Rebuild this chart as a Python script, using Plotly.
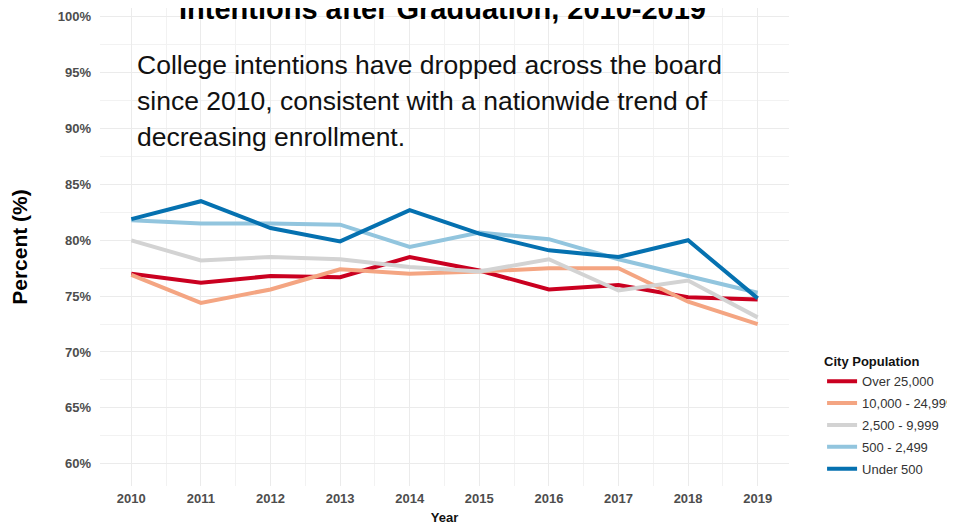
import plotly.graph_objects as go

years = [2010, 2011, 2012, 2013, 2014, 2015, 2016, 2017, 2018, 2019]

series_names = ["Over 25,000", "10,000 - 24,999", "2,500 - 9,999", "500 - 2,499", "Under 500"]
over_25000 = [77.0, 76.2, 76.8, 76.7, 78.5, 77.3, 75.6, 76.0, 74.9, 74.7]
from_10000 = [76.9, 74.4, 75.6, 77.4, 77.0, 77.2, 77.5, 77.5, 74.5, 72.5]
from_2500 = [80.0, 78.2, 78.5, 78.3, 77.6, 77.2, 78.3, 75.5, 76.4, 73.1]
from_500 = [81.8, 81.5, 81.5, 81.4, 79.4, 80.7, 80.1, 78.3, 76.8, 75.3]
under_500 = [81.9, 83.5, 81.1, 79.9, 82.7, 80.6, 79.1, 78.5, 80.0, 74.8]
series_values = [over_25000, from_10000, from_2500, from_500, under_500]
series_colors = ["#ca0020", "#f4a582", "#d3d3d3", "#92c5de", "#0571b0"]

y_tick_vals = [60, 65, 70, 75, 80, 85, 90, 95, 100]
y_tick_text = ["60%", "65%", "70%", "75%", "80%", "85%", "90%", "95%", "100%"]
x_tick_text = [str(y) for y in years]

title_text = "Intentions after Graduation, 2010-2019"
note_lines = [
    "College intentions have dropped across the board",
    "since 2010, consistent with a nationwide trend of",
    "decreasing enrollment.",
]

FONT = "Liberation Sans, Arial, sans-serif"

fig = go.Figure()
for i, (name, vals, col) in enumerate(zip(series_names, series_values, series_colors)):
    fig.add_trace(go.Scatter(
        x=years, y=vals, name=name, mode="lines",
        line=dict(color=col, width=4),
        legendgroup=f"g{i}",
    ))

W, H = 955, 524
ml, mr, mt, mb = 92, 174, 0, 46
pw = W - ml - mr
ph = H - mt - mb

fig.update_layout(
    width=W, height=H, autosize=False,
    margin=dict(l=ml, r=mr, t=mt, b=mb, pad=0),
    paper_bgcolor="white", plot_bgcolor="white",
    font=dict(family=FONT, color="#222"),
    showlegend=True,
    legend=dict(
        title=dict(text="<b>City Population</b>", font=dict(size=13, color="#111")),
        font=dict(size=13, color="#333"),
        x=1.048, xanchor="left", y=0.286, yanchor="top",
        tracegroupgap=2, itemwidth=30,
        bgcolor="rgba(0,0,0,0)",
    ),
    xaxis=dict(
        range=[2009.55, 2019.45],
        tickmode="array", tickvals=years, ticktext=x_tick_text,
        tickfont=dict(size=13, color="#4d4d4d", family=FONT, weight="bold"),
        showgrid=True, gridcolor="#ebebeb", gridwidth=1,
        minor=dict(tick0=2009.5, dtick=1, showgrid=True, gridcolor="#f2f2f2", gridwidth=1),
        zeroline=False, showline=False, ticks="", ticklabelstandoff=3,
        title=dict(text="<b>Year</b>", font=dict(size=13, color="#111"), standoff=7),
    ),
    yaxis=dict(
        range=[58, 100.8],
        tickmode="array", tickvals=y_tick_vals, ticktext=y_tick_text,
        tickfont=dict(size=13, color="#4d4d4d", family=FONT, weight="bold"),
        showgrid=True, gridcolor="#ebebeb", gridwidth=1,
        minor=dict(tick0=57.5, dtick=2.5, showgrid=True, gridcolor="#f2f2f2", gridwidth=1),
        zeroline=False, showline=False, ticks="", ticklabelstandoff=8,
        title=dict(text="<b>Percent (%)</b>", font=dict(size=21, color="#000"), standoff=25),
    ),
)

# title (partly cut at top of the page)
fig.add_annotation(
    text=f"<b>{title_text}</b>", xref="paper", yref="paper",
    x=(434 - ml) / pw, y=1 - 19 / ph, xanchor="center", yanchor="bottom",
    showarrow=False, font=dict(size=29, color="#000", family=FONT),
)

for k, line in enumerate(note_lines):
    ypix = 57 + 36 * k
    fig.add_annotation(
        text=line, xref="paper", yref="paper",
        x=(127 - ml) / pw, y=1 - ypix / ph, xanchor="left", yanchor="middle",
        showarrow=False, font=dict(size=26.5, color="#111", family=FONT),
    )

fig.write_html("out.html")
